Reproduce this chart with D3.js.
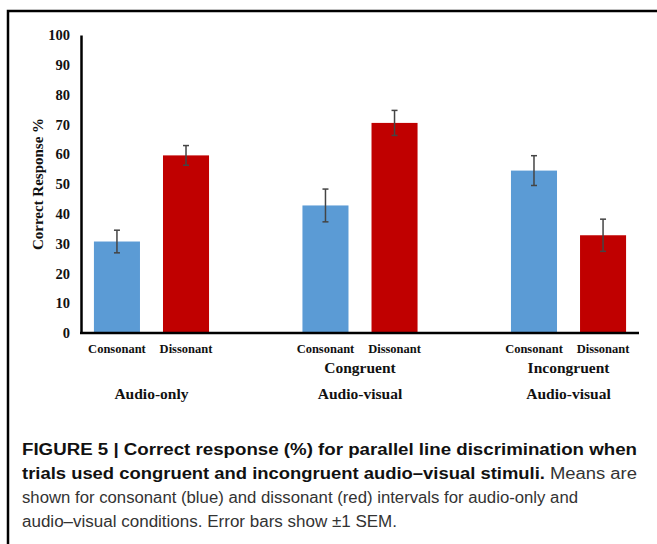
<!DOCTYPE html>
<html lang="en">
<head>
  <meta charset="UTF-8">
  <title>Figure 5</title>
  <style>
    body { margin: 0; background: #fff; }
    .serif { font-family: 'Liberation Serif', 'Times New Roman', serif; font-weight: bold; }
    .caption { font-family: 'Liberation Sans', Arial, sans-serif; font-size: 16px; fill: #222; }
  </style>
</head>
<body>
  <svg id="svg" width="657" height="544"></svg>

  <script src="https://d3js.org/d3.v7.min.js"></script>
  <script>
    // data
    const groups = ['Audio-only', 'Congruent Audio-visual', 'Incongruent Audio-visual']
    const groupLines = [['', 'Audio-only'], ['Congruent', 'Audio-visual'], ['Incongruent', 'Audio-visual']]
    const intervals = ['Consonant', 'Dissonant']
    const consonant = [30.7, 42.8, 54.5]
    const dissonant = [59.6, 70.5, 32.8]
    const consonantSem = [3.8, 5.5, 5.0]
    const dissonantSem = [3.3, 4.2, 5.4]
    const yTicks = [0, 10, 20, 30, 40, 50, 60, 70, 80, 90, 100]

    const colors = { Consonant: '#5B9BD5', Dissonant: '#C00000' }

    const bars = []
    groups.forEach((g, i) => {
      bars.push({ group: g, interval: 'Consonant', value: consonant[i], sem: consonantSem[i] })
      bars.push({ group: g, interval: 'Dissonant', value: dissonant[i], sem: dissonantSem[i] })
    })

    // CONSTANTS
    const margin = { top: 35, left: 81, right: 18, bottom: 211 }
    const width = 657 - margin.left - margin.right
    const bottom = 544 - margin.bottom

    const svg = d3.select('#svg')

    // frame around the figure
    svg.append('path')
      .attr('d', 'M8,544 V11 H657')
      .attr('fill', 'none')
      .attr('stroke', '#000')
      .attr('stroke-width', 2.5)

    // ------ SCALES ------------------------
    const xscale = d3.scaleBand()
      .domain(groups)
      .range([margin.left, margin.left + width])
      .paddingInner(0.448)
      .paddingOuter(0.062)

    const xinner = d3.scaleBand()
      .domain(intervals)
      .range([0, xscale.bandwidth()])
      .paddingInner(1 / 3)

    const yscale = d3.scaleLinear()
      .domain([0, 100])
      .range([bottom, margin.top])

    // ---------- DRAW -------------------------------
    svg.selectAll('rect.bar')
      .data(bars)
      .enter()
      .append('rect')
      .attr('class', 'bar')
      .attr('x', d => xscale(d.group) + xinner(d.interval))
      .attr('y', d => yscale(d.value))
      .attr('width', xinner.bandwidth())
      .attr('height', d => yscale(0) - yscale(d.value))
      .attr('fill', d => colors[d.interval])

    // error bars
    const err = svg.append('g')
      .attr('stroke', '#444')
      .attr('stroke-width', 1.5)
    const cx = d => xscale(d.group) + xinner(d.interval) + xinner.bandwidth() / 2
    err.selectAll('line.v')
      .data(bars)
      .enter()
      .append('line')
      .attr('x1', cx).attr('x2', cx)
      .attr('y1', d => yscale(d.value + d.sem))
      .attr('y2', d => yscale(d.value - d.sem))
    ;[1, -1].forEach(s => {
      err.selectAll('line.cap' + s)
        .data(bars)
        .enter()
        .append('line')
        .attr('x1', d => cx(d) - 3).attr('x2', d => cx(d) + 3)
        .attr('y1', d => yscale(d.value + s * d.sem))
        .attr('y2', d => yscale(d.value + s * d.sem))
    })

    // ------ AXES ------------------------
    const leftAxis = d3.axisLeft(yscale)
      .tickValues(yTicks)
      .tickSize(0)
      .tickPadding(11)

    const gy = svg.append('g')
      .attr('transform', `translate(${margin.left}, 0)`)
      .call(leftAxis)
    gy.select('.domain').attr('stroke-width', 2.5).attr('stroke', '#000')
    gy.selectAll('text')
      .attr('class', 'serif')
      .style('font-size', '14.5px')
      .attr('fill', '#111')

    svg.append('line')
      .attr('x1', margin.left - 1)
      .attr('x2', margin.left + width)
      .attr('y1', yscale(0))
      .attr('y2', yscale(0))
      .attr('stroke', '#000')
      .attr('stroke-width', 2.5)

    // interval labels under each bar
    svg.selectAll('text.interval')
      .data(bars)
      .enter()
      .append('text')
      .attr('class', 'serif')
      .attr('x', cx)
      .attr('y', bottom + 20)
      .attr('text-anchor', 'middle')
      .style('font-size', '12.5px')
      .attr('fill', '#111')
      .text(d => d.interval)

    // group labels
    groups.forEach((g, i) => {
      const mid = xscale(g) + xscale.bandwidth() / 2
      groupLines[i].forEach((t, j) => {
        svg.append('text')
          .attr('class', 'serif')
          .attr('x', mid)
          .attr('y', bottom + 40 + j * 26)
          .attr('text-anchor', 'middle')
          .style('font-size', '15.5px')
          .attr('fill', '#111')
          .text(t)
      })
    })

    // y label
    svg.append('text')
      .attr('class', 'serif')
      .attr('transform', `translate(43, ${(margin.top + bottom) / 2}) rotate(-90)`)
      .attr('text-anchor', 'middle')
      .style('font-size', '15px')
      .attr('fill', '#111')
      .text('Correct Response %')

    // ------ CAPTION ------------------------
    const caption = [
      [['FIGURE 5 | Correct response (%) for parallel line discrimination when', true]],
      [['trials used congruent and incongruent audio\u2013visual stimuli.', true], [' Means are', false]],
      [['shown for consonant (blue) and dissonant (red) intervals for audio-only and', false]],
      [['audio\u2013visual conditions. Error bars show \u00b11 SEM.', false]]
    ]
    const lineEnds = [637, 637, 578, 397]
    caption.forEach((parts, i) => {
      const t = svg.append('text')
        .attr('class', 'caption')
        .attr('x', 22)
        .attr('y', 455 + i * 24)
      parts.forEach(p => {
        t.append('tspan')
          .attr('font-weight', p[1] ? 'bold' : 'normal')
          .attr('fill', p[1] ? '#111' : '#333')
          .text(p[0])
      })
      t.attr('textLength', lineEnds[i] - 22).attr('lengthAdjust', 'spacingAndGlyphs')
    })
  </script>
</body>
</html>
